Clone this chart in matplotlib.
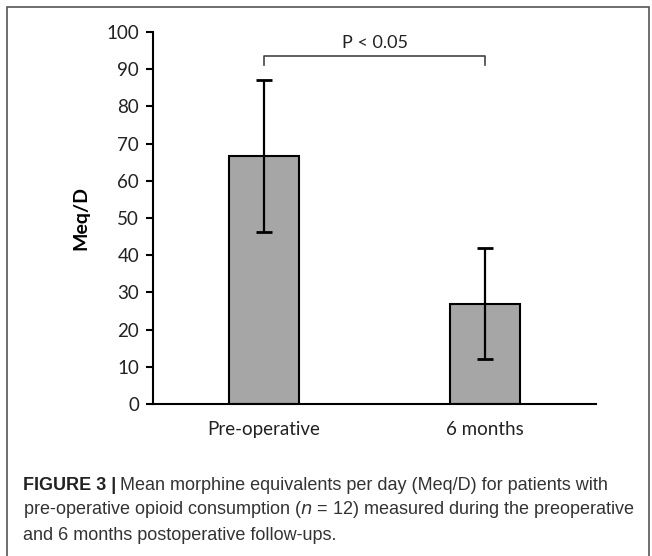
import matplotlib.pyplot as plt
from matplotlib.patches import Rectangle

# data
groups = ['Pre-operative', '6 months']
meq_mean = [66.7, 27.0]
meq_err = [20.5, 15.0]
p_text = 'P < 0.05'

W, H = 652, 556
fig = plt.figure(figsize=(W / 100, H / 100), dpi=100)

# grey frame round the figure (open at the bottom, like the page crop)
fig.patches.append(Rectangle((7 / W, -0.05), 642 / W, 1.05 - 7 / H,
                             transform=fig.transFigure, fill=False,
                             edgecolor='#555555', linewidth=1.2))

ax = fig.add_axes([153 / W, 1 - 404 / H, 443 / W, 372 / H])
x = [0, 1]
ax.bar(x, meq_mean, width=0.316, color='#a6a6a6', edgecolor='black', linewidth=1.5,
       yerr=meq_err, error_kw=dict(ecolor='black', elinewidth=1.6, capsize=6, capthick=2))

ax.set_xlim(-0.5, 1.5)
ax.set_ylim(0, 100)
ax.set_yticks(range(0, 101, 10))
ax.set_xticks(x)
ax.set_xticklabels(groups)
for s in ['top', 'right']:
    ax.spines[s].set_visible(False)
ax.spines['left'].set_linewidth(1.5)
ax.spines['bottom'].set_linewidth(1.5)
ax.tick_params(axis='y', length=5, width=1.5, labelsize=13.5, colors='black', pad=5)
ax.tick_params(axis='x', length=0, labelsize=13.5, pad=12)
for lab in ax.get_xticklabels() + ax.get_yticklabels():
    lab.set_family('Lato')
    lab.set_color('#222222')
ax.set_ylabel('Meq/D', fontsize=14, fontweight='bold', family='Lato', labelpad=12)

# significance bracket
yb = 93.5
ax.plot([0, 0, 1, 1], [yb - 2.5, yb, yb, yb - 2.5], color='#444444', linewidth=1.2,
        clip_on=False)
ax.text(0.5, yb + 1.3, p_text, ha='center', va='bottom', fontsize=13, family='Lato',
        color='#222222')

# caption
cap_kw = dict(fontsize=13, family='Liberation Sans', va='center', color='#333333')
lead = fig.text(23 / W, 1 - 485 / H, 'FIGURE 3 |', fontweight='bold',
                **{**cap_kw, 'color': '#222222'})
fig.canvas.draw()
bb = lead.get_window_extent(fig.canvas.get_renderer())
fig.text((bb.x1 + 4) / W, 1 - 485 / H,
         'Mean morphine equivalents per day (Meq/D) for patients with', **cap_kw)
fig.text(23 / W, 1 - 510 / H,
         'pre-operative opioid consumption ($n$ = 12) measured during the preoperative',
         **cap_kw)
fig.text(23 / W, 1 - 536 / H, 'and 6 months postoperative follow-ups.', **cap_kw)

fig.savefig('out.png', dpi=100)
